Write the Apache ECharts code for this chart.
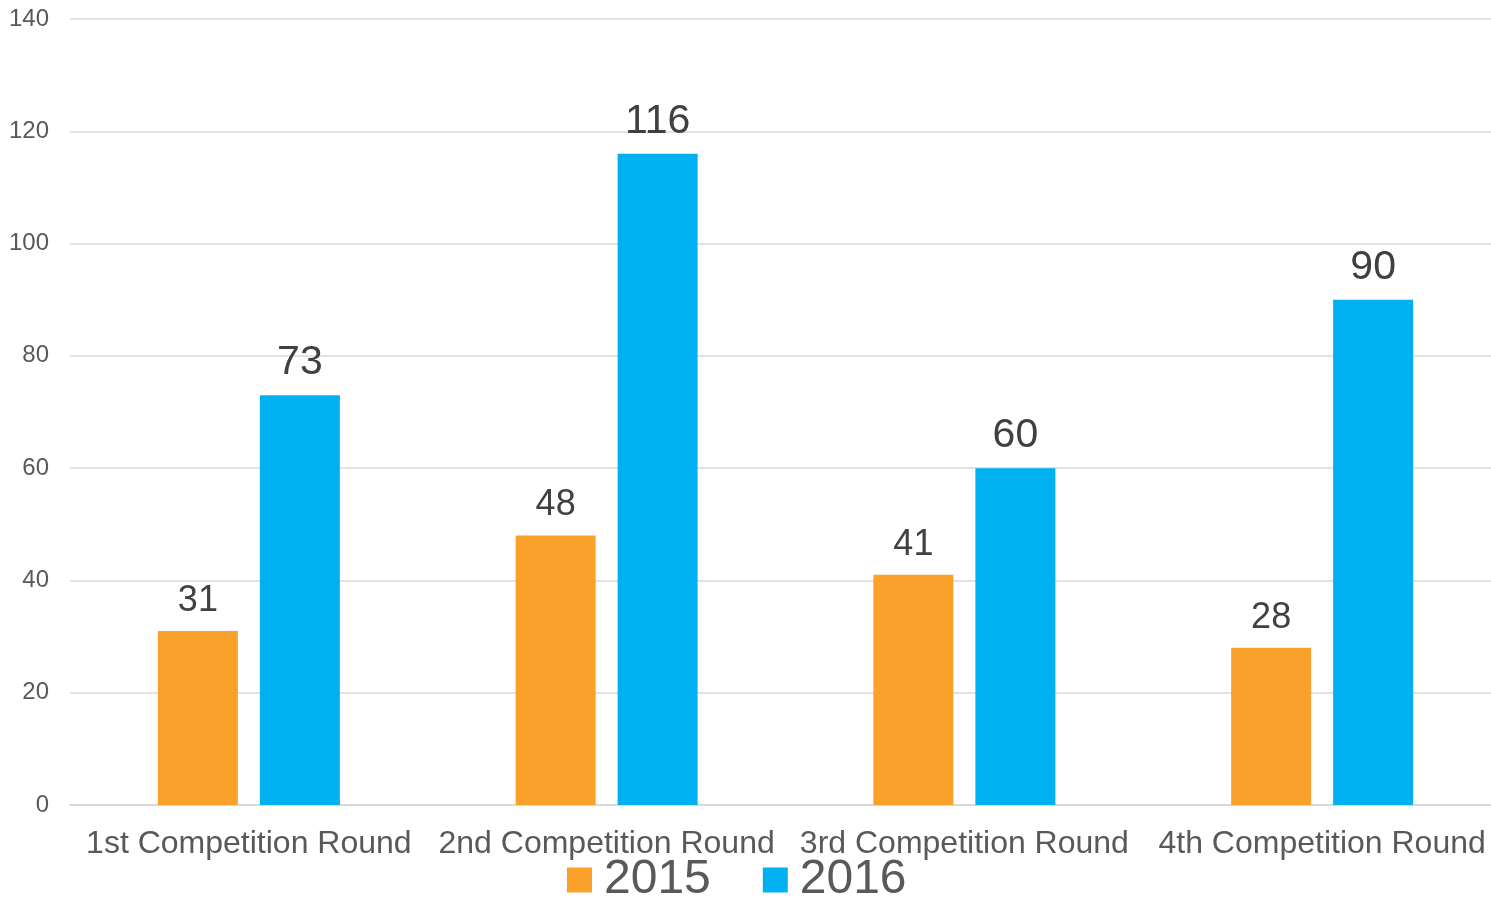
<!DOCTYPE html>
<html>
<head>
<meta charset="utf-8">
<script src="https://cdn.jsdelivr.net/npm/echarts@6/dist/echarts.min.js"></script>
<style>html,body{margin:0;padding:0;background:#fff;}#c{width:1491px;height:900px;}</style>
</head>
<body>
<div id="c"></div>
<script>
const categories = ['1st Competition Round', '2nd Competition Round', '3rd Competition Round', '4th Competition Round'];
const seriesNames = ['2015', '2016'];
const values2015 = [31, 48, 41, 28];
const values2016 = [73, 116, 60, 90];
const yTicks = [0, 20, 40, 60, 80, 100, 120, 140];

const font = '"Liberation Sans", Arial, sans-serif';
const chart = echarts.init(document.getElementById('c'));
chart.setOption({
  animation: false,
  backgroundColor: '#ffffff',
  textStyle: { fontFamily: font },
  legend: {
    data: seriesNames,
    left: 567,
    top: 856,
    itemWidth: 25,
    itemHeight: 25,
    itemGap: 52,
    icon: 'rect',
    textStyle: { fontSize: 48, color: '#595959', fontFamily: font, lineHeight: 48, padding: [0, 0, 0, 7] },
    padding: 0
  },
  grid: { left: 70, width: 1431, top: 19, bottom: 95, containLabel: false, outerBoundsMode: 'none' },
  xAxis: {
    type: 'category',
    data: categories,
    axisLine: { show: true, lineStyle: { color: '#d9d9d9', width: 2 } },
    axisTick: { show: false },
    axisLabel: { fontSize: 32, color: '#595959', margin: 23, fontFamily: font, interval: 0 }
  },
  yAxis: {
    type: 'value',
    min: yTicks[0],
    max: yTicks[yTicks.length - 1],
    interval: 20,
    axisLine: { show: false },
    axisTick: { show: false },
    splitLine: { lineStyle: { color: '#d9d9d9', width: 1.5 } },
    axisLabel: { fontSize: 24, color: '#595959', margin: 21, fontFamily: font }
  },
  series: [
    {
      name: seriesNames[0],
      type: 'bar',
      data: values2015,
      barWidth: 80,
      barGap: '27.5%',
      itemStyle: { color: '#F9A12A' },
      label: { show: true, position: 'top', distance: 12, fontSize: 36, color: '#404040', fontFamily: font }
    },
    {
      name: seriesNames[1],
      type: 'bar',
      data: values2016,
      barWidth: 80,
      barGap: '27.5%',
      itemStyle: { color: '#00B0F0' },
      label: { show: true, position: 'top', distance: 12, fontSize: 41, color: '#404040', fontFamily: font }
    }
  ]
});
</script>
</body>
</html>
